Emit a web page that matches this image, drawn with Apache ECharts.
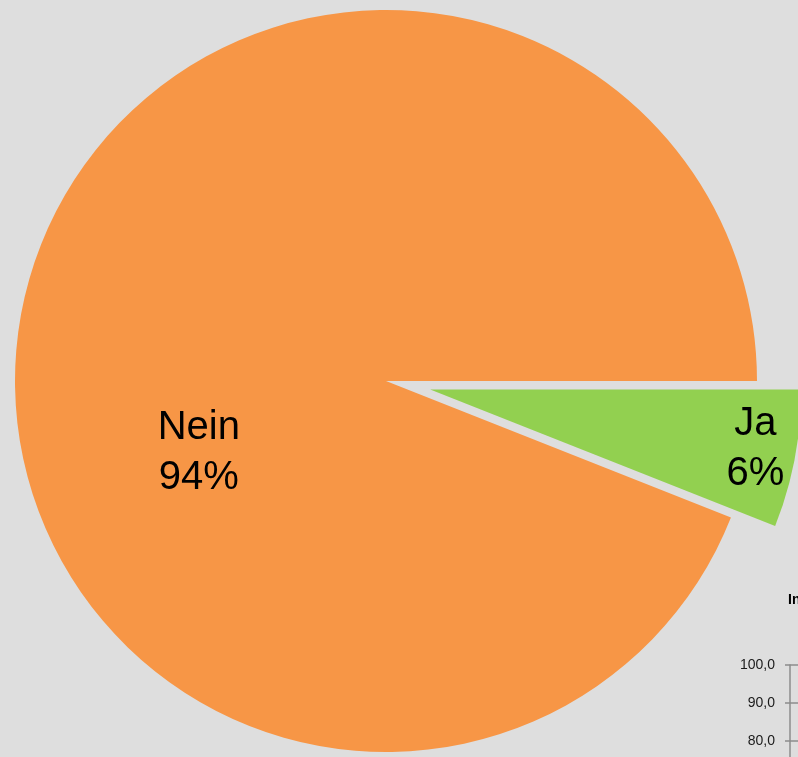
<!DOCTYPE html>
<html>
<head>
<meta charset="utf-8">
<script src="https://cdn.jsdelivr.net/npm/echarts@6/dist/echarts.min.js"></script>
<style>
html,body{margin:0;padding:0;background:#dedede;overflow:hidden;}
#c{width:798px;height:800px;}
</style>
</head>
<body>
<div id="c"></div>
<script>
// Pie data
var categories = ['Ja', 'Nein'];
var values = [6, 94];
var colors = ['#92D050', '#F79646'];
// Partially visible neighbouring chart (axis ticks)
var sideTitle = 'In';
var sideAxisMin = 70;
var sideAxisMax = 100;
var sideAxisStep = 10;

var chart = echarts.init(document.getElementById('c'), null, {renderer: 'canvas'});
var pieData = categories.map(function (c, i) {
  var off = c === 'Ja' ? [140, 24] : [-2, 107];
  var item = {
    name: c,
    value: values[i],
    itemStyle: {color: colors[i]},
    label: {offset: off},
    select: {label: {offset: off}, itemStyle: {color: colors[i]}}
  };
  if (c === 'Ja') item.selected = true;
  return item;
});

chart.setOption({
  backgroundColor: '#dedede',
  animation: false,
  title: {
    text: sideTitle,
    left: 788,
    top: 593,
    padding: 0,
    textStyle: {fontFamily: 'Liberation Sans', fontSize: 14, fontWeight: 'bold', color: '#000'}
  },
  grid: {left: 790, top: 665, width: 120, height: 114, containLabel: false},
  xAxis: {type: 'value', show: false, min: 0, max: 1},
  yAxis: {
    type: 'value',
    min: sideAxisMin,
    max: sideAxisMax,
    interval: sideAxisStep,
    axisLine: {show: true, lineStyle: {color: '#8c8c8c', width: 1.5}},
    axisTick: {show: true, length: 5, lineStyle: {color: '#8c8c8c', width: 1.5}},
    splitLine: {show: true, lineStyle: {color: '#8c8c8c', width: 1.5}},
    axisLabel: {
      margin: 15,
      showMinLabel: false,
      fontFamily: 'Liberation Sans',
      fontSize: 14,
      color: '#1a1a1a',
      formatter: function (v) { return v.toFixed(1).replace('.', ','); }
    }
  },
  series: [{
    type: 'pie',
    center: [386, 381],
    radius: 371,
    startAngle: 0,
    clockwise: true,
    selectedMode: 'single',
    selectedOffset: 45,
    avoidLabelOverlap: false,
    emphasis: {disabled: true},
    label: {
      show: true,
      position: 'inside',
      formatter: '{b}\n{d}%',
      fontFamily: 'Liberation Sans',
      fontSize: 40,
      lineHeight: 50,
      color: '#000',
      align: 'center'
    },
    labelLine: {show: false},
    data: pieData
  }]
});
</script>
</body>
</html>
